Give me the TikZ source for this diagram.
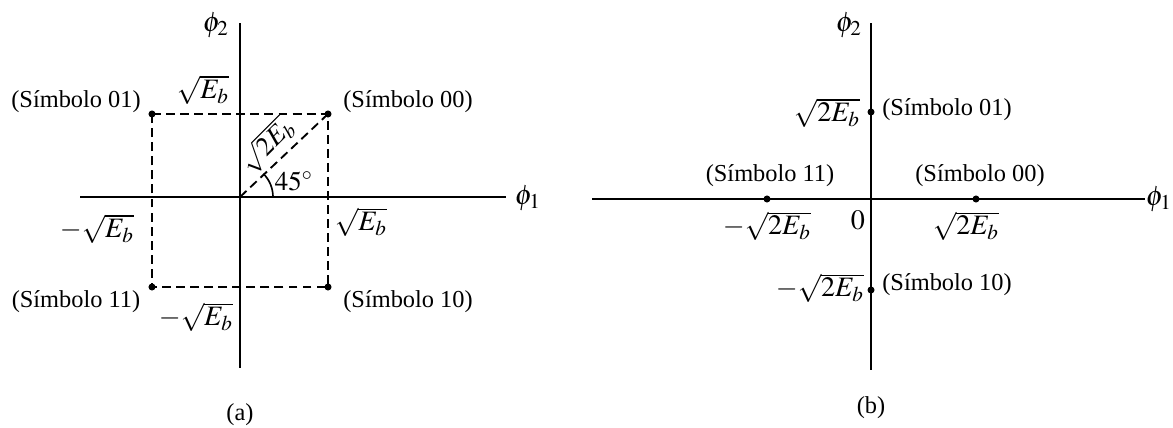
\documentclass[tikz,border=0pt]{standalone}
\usepackage{mathptmx}
\usepackage{fontspec}
\setmainfont{Liberation Serif}
\usetikzlibrary{arrows.meta, positioning}

\begin{document}
\begin{tikzpicture}[x=0.015cm,y=0.015cm,axis/.style={line width=0.9pt},guide/.style={line width=0.8pt, dash pattern=on 3.8pt off 2.2pt},sym/.style={font=\fontsize{10.4}{12}\selectfont, inner sep=1pt},val/.style={font=\fontsize{12}{14}\selectfont, inner sep=1pt},small/.style={font=\fontsize{11.5}{13}\selectfont, inner sep=0pt}]
\useasboundingbox (0,0) rectangle (1173,427);
% (a)
\coordinate (Oa) at (240,230);
\coordinate (XaL) at (80,230); \coordinate (XaR) at (506,230);
\coordinate (YaB) at (240,59); \coordinate (YaT) at (240,404);
\draw[axis] (XaL) -- (XaR); \draw[axis] (YaB) -- (YaT);
\coordinate (P00) at (328,313); \coordinate (P01) at (152,313);
\coordinate (P11) at (152,140); \coordinate (P10) at (328,140);
\draw[guide] (P01) -- (P00) -- (P10) -- (P11) -- cycle; \draw[guide] (Oa) -- (P00);
\draw[line width=0.7pt] (Oa) ++(0.495cm,0) arc[start angle=0, end angle=45, radius=0.495cm];
\foreach \p in {P00,P01,P11,P10} \fill (\p) circle (1.5pt);
\node[val] (phiA2) at (216,402) {$\phi_2$}; \node[val] (phiA1) at (528,229) {$\phi_1$};
\node[sym] (symA01) at (76,325) {(Símbolo 01)}; \node[sym] (symA00) at (408,325) {(Símbolo 00)};
\node[sym] (symA11) at (76,125) {(Símbolo 11)}; \node[sym] (symA10) at (408,125) {(Símbolo 10)};
\node[val] (topA) at (203,337) {$\sqrt{E_b}$}; \node[val] (botA) at (196,110) {$-\sqrt{E_b}$};
\node[val] (leftA) at (97,198) {$-\sqrt{E_b}$}; \node[val] (rightA) at (361,205) {$\sqrt{E_b}$};
\node[small, rotate=45] (diagA) at (267,282) {$\sqrt{2E_b}$}; \node[small] (angA) at (294,246) {$45^\circ$};
\node[sym] (capA) at (240,12) {(a)};
% (b)
\coordinate (Ob) at (871,228);
\coordinate (XbL) at (592,228); \coordinate (XbR) at (1145,228);
\coordinate (YbB) at (871,57); \coordinate (YbT) at (871,404);
\draw[axis] (XbL) -- (XbR); \draw[axis] (YbB) -- (YbT);
\coordinate (Q00) at (976,228); \coordinate (Q11) at (767,228);
\coordinate (Q01) at (871,315); \coordinate (Q10) at (871,137);
\foreach \q in {Q00,Q11,Q01,Q10} \fill (\q) circle (1.5pt);
\node[val] (phiB2) at (849,402) {$\phi_2$}; \node[val] (phiB1) at (1159,228) {$\phi_1$};
\node[sym] (symB01) at (947,317) {(Símbolo 01)}; \node[sym] (symB10) at (947,142) {(Símbolo 10)};
\node[sym] (symB11) at (770,251) {(Símbolo 11)}; \node[sym] (symB00) at (980,251) {(Símbolo 00)};
\node[val] (topB) at (827,314) {$\sqrt{2E_b}$}; \node[val] (botB) at (820,139) {$-\sqrt{2E_b}$};
\node[val] (leftB) at (767,201) {$-\sqrt{2E_b}$}; \node[val] (rightB) at (966,201) {$\sqrt{2E_b}$};
\node[val] (zeroB) at (858,207) {$0$};
\node[sym] (capB) at (871,19) {(b)};
\end{tikzpicture}
\end{document}
